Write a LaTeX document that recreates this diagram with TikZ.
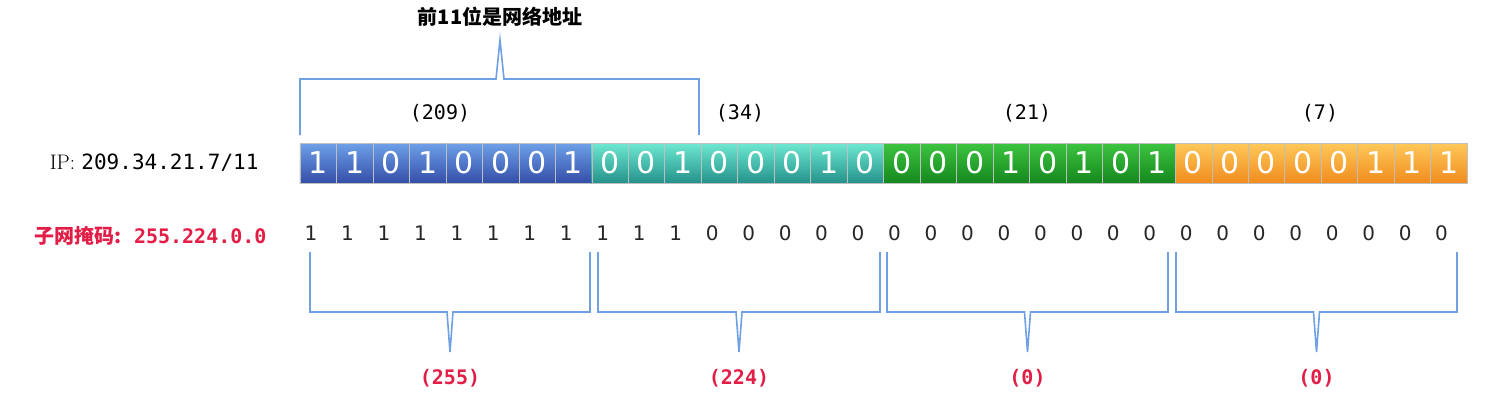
\documentclass[tikz,border=0pt]{standalone}
\usepackage{fontspec}
\setmonofont{DejaVu Sans Mono}
\setsansfont{DejaVu Sans}
\newfontfamily\cjk{Noto Sans CJK SC}
\begin{document}
\begin{tikzpicture}[x=1pt,y=-1pt,
  brc/.style={draw={rgb,255:red,111;green,160;blue,228},line width=1.6pt,line join=miter},
  cellbox/.style={draw=white!75!black,line width=0.4pt,minimum width=36.5pt,minimum height=40pt,inner sep=0pt,font=\sffamily\fontsize{30}{30}\selectfont,text=white},
  mdig/.style={font=\sffamily\fontsize{20}{20}\selectfont,text=black!85},
  lab/.style={font=\ttfamily\fontsize{20}{20}\selectfont},
  redlab/.style={font=\ttfamily\bfseries\fontsize{20}{20}\selectfont,text={rgb,255:red,226;green,30;blue,70}}]
\useasboundingbox (0,0) rectangle (1486,404);
\definecolor{bt}{RGB}{110,160,232}\definecolor{bb}{RGB}{52,78,168}
\definecolor{tt}{RGB}{110,232,208}\definecolor{tb}{RGB}{36,146,140}
\definecolor{gt}{RGB}{60,196,64}\definecolor{gb}{RGB}{22,136,30}
\definecolor{ot}{RGB}{255,200,90}\definecolor{ob}{RGB}{240,140,30}
\def\bits{1,1,0,1,0,0,0,1,0,0,1,0,0,0,1,0,0,0,0,1,0,1,0,1,0,0,0,0,0,1,1,1}
\foreach \b [count=\i from 0] in \bits {
  \pgfmathtruncatemacro{\g}{int(\i/8)}
  \ifcase\g \def\ct{bt}\def\cb{bb}\or\def\ct{tt}\def\cb{tb}\or\def\ct{gt}\def\cb{gb}\or\def\ct{ot}\def\cb{ob}\fi
  \node[cellbox,top color=\ct,bottom color=\cb] (c\i) at ({300+36.47*\i+18.2},163) {\b};
}
\def\mbits{1,1,1,1,1,1,1,1,1,1,1,0,0,0,0,0,0,0,0,0,0,0,0,0,0,0,0,0,0,0,0,0}
\foreach \b [count=\i from 0] in \mbits {
  \node[mdig] (m\i) at ({300+36.47*\i+11},233) {\b};
}
\node[anchor=east,font=\fontsize{21}{21}\selectfont] (ip) at (262,163) {IP: \ttfamily 209.34.21.7/11};
\node[anchor=east,redlab] (mask) at (270,236) {{\cjk\bfseries 子网掩码:} 255.224.0.0};
\node[font=\cjk\bfseries\fontsize{20}{20}\selectfont] (title) at (500,17) {前11位是网络地址};
\draw[brc] (300,135)--(300,79)--(496,79)--(500,40)--(504,79)--(699,79)--(699,135);
\node[lab] (t1) at (440,113) {(209)};
\node[lab] (t2) at (740,113) {(34)};
\node[lab] (t3) at (1027,113) {(21)};
\node[lab] (t4) at (1320,113) {(7)};
\foreach \a/\b/\l [count=\k] in {310/590/(255),598/880/(224),887/1168/(0),1176/1457/(0)} {
  \pgfmathsetmacro{\mid}{(\a+\b)/2}
  \draw[brc] (\a,252)--(\a,312)--(\mid-3,312)--(\mid,352)--(\mid+3,312)--(\b,312)--(\b,252);
  \node[redlab] (b\k) at (\mid,378) {\l};
}
\end{tikzpicture}
\end{document}
